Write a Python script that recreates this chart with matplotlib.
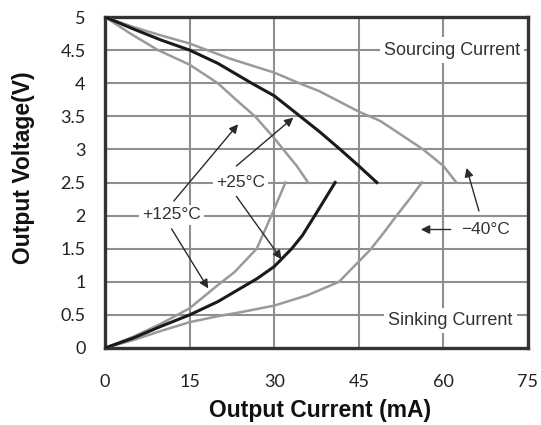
import matplotlib
matplotlib.use("Agg")
import matplotlib.pyplot as plt

# ---- data (mA, V) ----
src_125_i = [0, 4.5, 9.4, 15, 20, 23.9, 26.6, 30, 31.6, 34, 36]
src_125_v = [5, 4.75, 4.5, 4.28, 4.0, 3.7, 3.5, 3.17, 3.0, 2.75, 2.5]
src_25_i = [0, 5, 10, 15, 20, 22.2, 26, 30, 34.6, 38, 41.7, 45, 48.2]
src_25_v = [5, 4.82, 4.65, 4.5, 4.3, 4.19, 4.0, 3.81, 3.5, 3.27, 3.0, 2.75, 2.5]
src_m40_i = [0, 5, 10, 15, 22.2, 30, 35, 38, 45, 48.8, 52, 56.4, 60, 62.3]
src_m40_v = [5, 4.85, 4.72, 4.6, 4.37, 4.16, 3.98, 3.88, 3.57, 3.43, 3.25, 3.0, 2.75, 2.5]

snk_125_i = [0, 5, 10, 15, 20, 23, 26.9, 29.5, 32]
snk_125_v = [0, 0.17, 0.37, 0.6, 0.95, 1.15, 1.5, 2.0, 2.5]
snk_25_i = [0, 5, 10, 15, 20, 24, 27, 30, 33.1, 35, 37.2, 39, 40.8]
snk_25_v = [0, 0.15, 0.33, 0.5, 0.7, 0.9, 1.05, 1.23, 1.5, 1.7, 2.0, 2.25, 2.5]
snk_m40_i = [0, 5, 10, 15, 20, 24, 30, 36, 41.5, 44, 47, 49.5, 51.7, 54, 56.2]
snk_m40_v = [0, 0.12, 0.26, 0.39, 0.48, 0.54, 0.64, 0.8, 1.0, 1.22, 1.48, 1.75, 2.0, 2.25, 2.5]

x_ticks = [0, 15, 30, 45, 60, 75]
y_ticks = [0, 0.5, 1, 1.5, 2, 2.5, 3, 3.5, 4, 4.5, 5]
y_tick_labels = ["0", "0.5", "1", "1.5", "2", "2.5", "3", "3.5", "4", "4.5", "5"]

fig = plt.figure(figsize=(5.41, 4.25), dpi=100)
ax = fig.add_axes([105/541, 1-348/425, (528-105)/541, (348-17)/425])
ax.set_xlim(0, 75)
ax.set_ylim(0, 5)

grid_c = "#8f8f8f"
for x in x_ticks[1:-1]:
    ax.axvline(x, color=grid_c, lw=1.5, zorder=1)
for y in y_ticks[1:-1]:
    ax.axhline(y, color=grid_c, lw=1.5, zorder=1)

gray = "#9a9a9a"
ax.plot(src_125_i, src_125_v, color=gray, lw=1.8, zorder=3)
ax.plot(src_m40_i, src_m40_v, color=gray, lw=1.8, zorder=3)
ax.plot(snk_125_i, snk_125_v, color=gray, lw=1.8, zorder=3)
ax.plot(snk_m40_i, snk_m40_v, color=gray, lw=1.8, zorder=3)
ax.plot(src_25_i, src_25_v, color="#1a1a1a", lw=2.2, zorder=4)
ax.plot(snk_25_i, snk_25_v, color="#1a1a1a", lw=2.2, zorder=4)

tc = "#333333"
tf_big = dict(family="Liberation Sans", fontsize=13, color=tc, zorder=5)
tf = dict(family="Liberation Sans", fontsize=12.5, color=tc, zorder=5)
ax.text(61.5, 4.5, "Sourcing Current", ha="center", va="center",
        bbox=dict(facecolor="white", edgecolor="none", pad=3), **tf_big)
ax.text(61.2, 0.42, "Sinking Current", ha="center", va="center",
        bbox=dict(facecolor="white", edgecolor="none", pad=3), **tf_big)
bbox = dict(facecolor="white", edgecolor="none", pad=2)
ax.text(24, 2.5, "+25°C", ha="center", va="center", bbox=bbox, **tf)
ax.text(11.8, 2.01, "+125°C", ha="center", va="center", bbox=bbox, **tf)
ax.text(67.5, 1.79, "\u221240°C", ha="center", va="center", bbox=bbox, **tf)

ap = dict(arrowstyle="-|>", color="#2a2a2a", lw=1.0, mutation_scale=13, shrinkA=0, shrinkB=0)
ax.annotate("", xy=(33.4, 3.48), xytext=(23.3, 2.75), arrowprops=ap, zorder=6)
ax.annotate("", xy=(31.3, 1.34), xytext=(23.3, 2.29), arrowprops=ap, zorder=6)
ax.annotate("", xy=(23.6, 3.38), xytext=(12.2, 2.22), arrowprops=ap, zorder=6)
ax.annotate("", xy=(18.3, 0.9), xytext=(11.8, 1.8), arrowprops=ap, zorder=6)
ax.annotate("", xy=(64.1, 2.72), xytext=(66.3, 2.07), arrowprops=ap, zorder=6)
ax.annotate("", xy=(56.0, 1.79), xytext=(61.3, 1.79), arrowprops=ap, zorder=6)

ax.set_xticks(x_ticks)
ax.set_yticks(y_ticks)
ax.set_yticklabels(y_tick_labels)
ax.tick_params(length=0, labelsize=13, labelcolor="#222222")
ax.tick_params(axis="x", pad=19)
ax.tick_params(axis="y", pad=14)
for lab in ax.get_xticklabels() + ax.get_yticklabels():
    lab.set_family("Lato")

for s in ax.spines.values():
    s.set_color("#333333")
    s.set_linewidth(2.4)

ax.set_xlabel("Output Current (mA)", family="Liberation Sans", fontweight="bold", fontsize=16.5, color="#111111")
ax.xaxis.set_label_coords((320-105)/(528-105), (348-410)/(348-17))
ax.set_ylabel("Output Voltage(V)", family="Liberation Sans", fontweight="bold", fontsize=16.5, color="#111111")
ax.yaxis.set_label_coords((24-105)/(528-105), (348-168)/(348-17))
ax.xaxis.label.set_va("center")
ax.yaxis.label.set_va("center")

fig.savefig("out.png", dpi=100)
